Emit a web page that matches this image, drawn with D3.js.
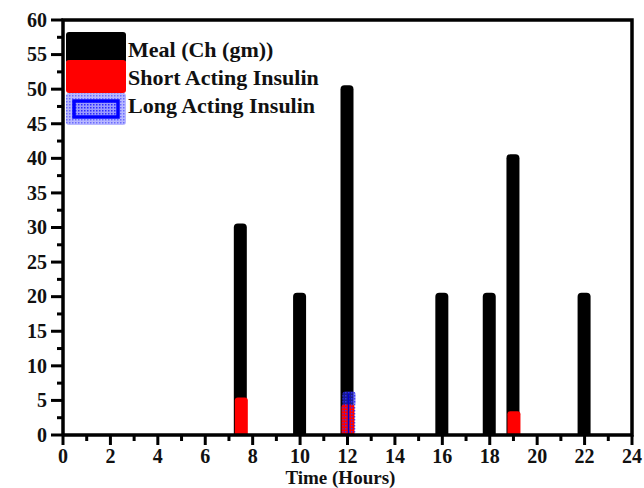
<!DOCTYPE html>
<html>
<head>
<meta charset="utf-8">
<script src="https://cdn.jsdelivr.net/npm/d3@7"></script>
<style>
  body { margin: 0; background: #fff; }
  text { font-family: "Liberation Serif", "Times New Roman", serif; font-weight: bold; fill: #111; }
</style>
</head>
<body>
<div id="vis"></div>
<script>
// values
var mealHours = [7.5, 10, 12, 16, 18, 19, 22];
var mealCarbs = [30, 20, 50, 20, 20, 40, 20];
var shortHours = [7.5, 12, 19];
var shortUnits = [5, 4, 3];
var longHours = [12];
var longUnits = [6];
var xTicks = d3.range(0, 25, 2);
var yTicks = d3.range(0, 61, 5);
var seriesNames = ["Meal (Ch (gm))", "Short Acting Insulin", "Long Acting Insulin"];

var margin = {top: 20, right: 12, bottom: 53, left: 63},
    width = 644 - margin.left - margin.right,
    height = 488 - margin.top - margin.bottom;

var x = d3.scaleLinear().domain([0, 24]).range([0, width]);
var y = d3.scaleLinear().domain([0, 60]).range([height, 0]);

// bar with only the top corners rounded
function capBar(x0, top, w, bottom, r) {
  return "M" + x0 + "," + bottom +
    "V" + (top + r) +
    "Q" + x0 + "," + top + " " + (x0 + r) + "," + top +
    "H" + (x0 + w - r) +
    "Q" + (x0 + w) + "," + top + " " + (x0 + w) + "," + (top + r) +
    "V" + bottom + "Z";
}

var svg = d3.select("#vis").append("svg")
    .attr("width", 644)
    .attr("height", 488);

var defs = svg.append("defs");
var pat = defs.append("pattern")
    .attr("id", "dots")
    .attr("patternUnits", "userSpaceOnUse")
    .attr("width", 3).attr("height", 3);
pat.append("rect").attr("width", 3).attr("height", 3).attr("fill", "#9a9aff");
pat.append("rect").attr("width", 1.5).attr("height", 1.5).attr("fill", "#2a2aff");

var pat2 = defs.append("pattern")
    .attr("id", "dotsThin")
    .attr("patternUnits", "userSpaceOnUse")
    .attr("width", 3).attr("height", 3);
pat2.append("rect").attr("width", 1.5).attr("height", 1.5).attr("fill", "#3030ff");

var g = svg.append("g")
    .attr("transform", "translate(" + margin.left + "," + margin.top + ")");

// meal bars
g.selectAll(".meal")
    .data(mealHours.map(function(h, i) { return {h: h, v: mealCarbs[i]}; }))
  .enter().append("path")
    .attr("class", "meal")
    .attr("d", function(d) { return capBar(x(d.h) - 7, y(d.v) - 4, 13, height, 4); })
    .attr("fill", "#000");

// short acting insulin
g.selectAll(".short")
    .data(shortHours.map(function(h, i) { return {h: h, v: shortUnits[i]}; }))
  .enter().append("path")
    .attr("class", "short")
    .attr("d", function(d) { return capBar(x(d.h) - 6, y(d.v) - 3, 13, height, 3); })
    .attr("fill", "#ff0000");

// long acting insulin (see-through, red shows under it)
var longG = g.selectAll(".long")
    .data(longHours.map(function(h, i) { return {h: h, v: longUnits[i]}; }))
  .enter().append("g")
    .attr("class", "long");
longG.append("path")
    .attr("d", function(d) { return capBar(x(d.h) - 5, y(d.v) - 2, 13, height, 3); })
    .attr("fill", "url(#dotsThin)")
    .attr("opacity", 0.9);
longG.append("path")
    .attr("d", function(d) { return capBar(x(d.h) - 5, y(d.v) - 2, 13, y(shortUnits[1]) - 3, 3); })
    .attr("fill", "#3030ff")
    .attr("opacity", 0.55);
longG.append("line")
    .attr("x1", function(d) { return x(d.h) + 1; })
    .attr("x2", function(d) { return x(d.h) + 1; })
    .attr("y1", function(d) { return y(d.v); })
    .attr("y2", height)
    .attr("stroke", "#0000cc")
    .attr("stroke-width", 1.5);

// frame
g.append("path")
    .attr("d", "M0," + height + "V0H" + width + "V" + height + "H0")
    .attr("fill", "none")
    .attr("stroke", "#000")
    .attr("stroke-width", 3.5);

// y axis ticks
var yMinor = d3.range(2.5, 60, 5);
g.selectAll(".ytick").data(yTicks).enter().append("line")
    .attr("x1", -12).attr("x2", 0)
    .attr("y1", function(d) { return y(d); }).attr("y2", function(d) { return y(d); })
    .attr("stroke", "#000").attr("stroke-width", 3);
g.selectAll(".yminor").data(yMinor).enter().append("line")
    .attr("x1", -6).attr("x2", 0)
    .attr("y1", function(d) { return y(d); }).attr("y2", function(d) { return y(d); })
    .attr("stroke", "#000").attr("stroke-width", 3);
g.selectAll(".ylab").data(yTicks).enter().append("text")
    .attr("x", -16)
    .attr("y", function(d) { return y(d); })
    .attr("dy", "0.34em")
    .attr("text-anchor", "end")
    .style("font-size", "20px")
    .text(function(d) { return d; });

// x axis ticks
var xMinor = d3.range(1, 24, 2);
g.selectAll(".xtick").data(xTicks).enter().append("line")
    .attr("y1", height).attr("y2", height + 10)
    .attr("x1", function(d) { return x(d); }).attr("x2", function(d) { return x(d); })
    .attr("stroke", "#000").attr("stroke-width", 3);
g.selectAll(".xminor").data(xMinor).enter().append("line")
    .attr("y1", height).attr("y2", height + 6)
    .attr("x1", function(d) { return x(d); }).attr("x2", function(d) { return x(d); })
    .attr("stroke", "#000").attr("stroke-width", 3);
g.selectAll(".xlab").data(xTicks).enter().append("text")
    .attr("x", function(d) { return x(d); })
    .attr("y", height + 28)
    .attr("text-anchor", "middle")
    .style("font-size", "20px")
    .text(function(d) { return d; });

g.append("text")
    .attr("x", x(11.7))
    .attr("y", height + 49)
    .attr("text-anchor", "middle")
    .style("font-size", "19px")
    .text("Time (Hours)");

// legend
var legend = svg.append("g").attr("transform", "translate(66,32)");
legend.append("rect").attr("x", 0).attr("y", 0).attr("width", 60).attr("height", 31)
    .attr("rx", 3).attr("fill", "#000");
legend.append("rect").attr("x", 0).attr("y", 28).attr("width", 60).attr("height", 33)
    .attr("rx", 3).attr("fill", "#ff0000");
legend.append("rect").attr("x", 0).attr("y", 61).attr("width", 60).attr("height", 32)
    .attr("rx", 3).attr("fill", "url(#dots)").attr("opacity", 0.7);
legend.append("rect").attr("x", 8).attr("y", 69).attr("width", 44).attr("height", 16)
    .attr("fill", "url(#dots)").attr("stroke", "#0000ff").attr("stroke-width", 3.5);

legend.selectAll(".ltext").data(seriesNames).enter().append("text")
    .attr("x", 62)
    .attr("y", function(d, i) { return 25 + i * 28; })
    .style("font-size", "22px")
    .text(function(d) { return d; });
</script>
</body>
</html>
